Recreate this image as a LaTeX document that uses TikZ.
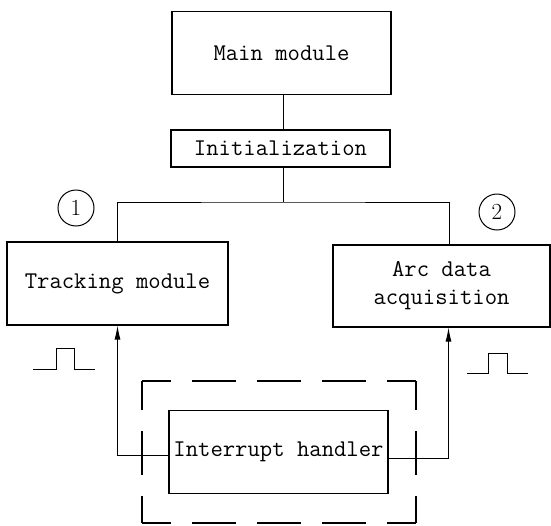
\documentclass[tikz,border=0pt]{standalone}
\usetikzlibrary{arrows.meta}

\tikzset{
    box/.style={draw, line width=1.2pt, inner sep=0pt, align=center},
    num/.style={circle, draw, line width=1pt, minimum size=36pt, inner sep=0pt,
        font=\rmfamily\fontsize{23}{26}\selectfont},
    link/.style={line width=0.9pt},
    irq/.style={link, -{Latex[length=14pt, width=6pt]}},
    frame/.style={line width=1.2pt, dash pattern=on 44pt off 21pt, dash phase=15pt},
}

\begin{document}
\begin{tikzpicture}[x=1pt, y=-1pt, font=\ttfamily\fontsize{24}{28}\selectfont]
        \useasboundingbox (0,0) rectangle (551,525);

        \node[box, minimum width=219pt, minimum height=83pt] (main) at (281.5, 53) {Main module};
        \node[box, minimum width=219pt, minimum height=37pt] (init) at (280.5, 148.5) {Initialization};
        \node[box, minimum width=221pt, minimum height=83pt] (trk) at (117.5, 283.5) {Tracking module};
        \node[box, minimum width=217pt, minimum height=82pt] (arc) at (441.5, 286) {Arc data\\acquisition};
        \node[box, minimum width=219pt, minimum height=83pt] (hnd) at (278.5, 452) {Interrupt handler};

        \node[num] (one) at (76, 208) {1};
        \node[num] (two) at (497, 212) {2};

        \coordinate (split) at (283, 202);

        % tree from the main module down to the two tasks
        \draw[link] (split |- main.south) -- (split |- init.north);
        \draw[link] (split |- init.south) -- (split);
        \draw[link] (trk.north) |- (split) -| ([xshift=7.5pt]arc.north);

        % interrupt lines back up to the tasks
        \draw[irq] ([yshift=-3pt]hnd.west) -| (trk.south);
        \draw[irq] ([yshift=-6pt]hnd.east) -| ([xshift=7pt]arc.south);

        % dashed frame round the handler
        \draw[frame] (142, 381) -- (416, 381);
        \draw[frame] (142, 523) -- (416, 523);
        \draw[frame] (142, 381) -- (142, 523);
        \draw[frame] (416, 381) -- (416, 523);

        % clock pulses
        \draw[link] (33, 369) -- (56, 369) -- (56, 348) -- (74, 348) -- (74, 369) -- (95, 369);
        \draw[link] (467, 373) -- (488, 373) -- (488, 353) -- (507, 353) -- (507, 373) -- (528, 373);

    \end{tikzpicture}
\end{document}
